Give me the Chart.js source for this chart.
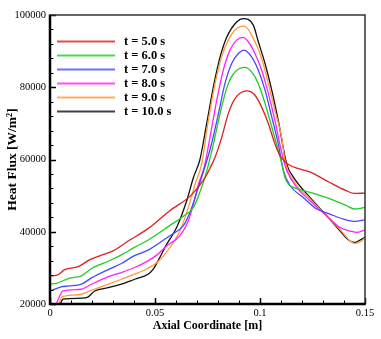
<!DOCTYPE html>
<html>
<head>
<meta charset="utf-8">
<script src="https://cdn.jsdelivr.net/npm/chart.js@4/dist/chart.umd.min.js"></script>
<style>
  html, body { margin: 0; padding: 0; background: #fff; }
  #wrap { width: 381px; height: 339px; }
</style>
</head>
<body>
<div id="wrap"><canvas id="c" width="381" height="339"></canvas></div>
<script>
// ---- Data ----
const seriesLabels = ['t = 5.0 s', 't = 6.0 s', 't = 7.0 s', 't = 8.0 s', 't = 9.0 s', 't = 10.0 s'];
const seriesColors = ['#dd2020', '#22cc22', '#4848ff', '#ff22ff', '#ff9a3a', '#111111'];

const x5 = [0, 0.003, 0.007, 0.014, 0.019, 0.024, 0.030, 0.038, 0.047, 0.057, 0.067, 0.073, 0.0762, 0.0786, 0.0817, 0.0849, 0.0881, 0.0937, 0.0976, 0.1008, 0.104, 0.1071, 0.1095, 0.1129, 0.124, 0.133, 0.141, 0.145, 0.15];
const y5 = [27800, 27900, 29500, 30500, 32300, 33400, 34700, 37700, 41000, 45800, 50000, 54200, 57600, 60600, 66000, 72700, 76850, 78970, 77800, 74500, 69900, 64350, 61100, 58900, 56500, 53700, 51400, 50600, 50700];

const x6 = [0, 0.003, 0.009, 0.015, 0.020, 0.028, 0.034, 0.040, 0.047, 0.057, 0.0635, 0.0683, 0.0714, 0.0745, 0.0775, 0.0817, 0.0849, 0.0881, 0.0929, 0.096, 0.0992, 0.1024, 0.1056, 0.1087, 0.1103, 0.1119, 0.1135, 0.1159, 0.1238, 0.1333, 0.1413, 0.145, 0.15];
const y6 = [25500, 25700, 27100, 27800, 29900, 31900, 33600, 35600, 37800, 41700, 44300, 46750, 51000, 56500, 63500, 74500, 81000, 84250, 85500, 84250, 81000, 75500, 69000, 62500, 59000, 55000, 53200, 52300, 50900, 49100, 47200, 46300, 46750];

const x7 = [0, 0.005, 0.009, 0.015, 0.020, 0.028, 0.034, 0.040, 0.047, 0.057, 0.0635, 0.0667, 0.0705, 0.0735, 0.0765, 0.0802, 0.0833, 0.0865, 0.0897, 0.0924, 0.096, 0.0992, 0.1024, 0.1056, 0.1087, 0.1111, 0.1143, 0.1206, 0.127, 0.1333, 0.1397, 0.1452, 0.15];
const y7 = [23600, 24700, 25000, 25500, 27300, 29600, 31200, 33300, 35000, 38900, 41670, 45400, 52000, 57500, 63400, 72700, 81000, 86570, 89350, 90300, 88400, 84700, 79200, 71750, 64350, 57000, 52800, 49500, 46300, 44900, 43500, 42860, 43300];

const x8 = [0.002, 0.0046, 0.0062, 0.0149, 0.0197, 0.0276, 0.034, 0.0403, 0.0467, 0.051, 0.0556, 0.0619, 0.0659, 0.0683, 0.0706, 0.0735, 0.0762, 0.0794, 0.0825, 0.0857, 0.0889, 0.092, 0.0944, 0.0976, 0.1008, 0.104, 0.1071, 0.1103, 0.1127, 0.1175, 0.1238, 0.1317, 0.138, 0.1437, 0.146, 0.15];
const y8 = [18500, 22200, 23600, 24080, 25460, 27500, 28700, 30100, 31940, 33600, 36100, 38900, 43050, 47700, 53000, 58000, 66200, 76400, 84700, 90280, 93050, 93800, 92600, 89350, 84700, 78240, 70800, 62000, 57000, 52300, 48600, 44440, 41200, 40080, 39800, 40550];

const x9 = [0.003, 0.0054, 0.007, 0.0149, 0.0197, 0.0276, 0.034, 0.0403, 0.0467, 0.0514, 0.0571, 0.0619, 0.0659, 0.069, 0.0722, 0.0754, 0.0786, 0.0817, 0.0849, 0.089, 0.0925, 0.0976, 0.1008, 0.104, 0.1071, 0.1103, 0.1119, 0.1159, 0.1238, 0.1317, 0.138, 0.142, 0.1452, 0.1476, 0.15];
const y9 = [17500, 21750, 22200, 22700, 23800, 25460, 26850, 28250, 29900, 31700, 35640, 40300, 46750, 53000, 58800, 70800, 81000, 88400, 93050, 96300, 96900, 92600, 87950, 81000, 73600, 66200, 59700, 54200, 49100, 44440, 40740, 37960, 36760, 37200, 38240];

const x10 = [0.0035, 0.0055, 0.0065, 0.015, 0.018, 0.0213, 0.0276, 0.034, 0.0403, 0.0467, 0.049, 0.0514, 0.0556, 0.0603, 0.0651, 0.0683, 0.0714, 0.0746, 0.0778, 0.081, 0.0841, 0.089, 0.092, 0.0968, 0.0992, 0.1024, 0.1056, 0.1087, 0.1127, 0.1159, 0.1238, 0.1317, 0.138, 0.142, 0.1452, 0.1476, 0.15];
const y10 = [17000, 20800, 21400, 21600, 21900, 23600, 24500, 25500, 26850, 28250, 29500, 31900, 36570, 41200, 48600, 55000, 60000, 69900, 80100, 88400, 93800, 98150, 99000, 97200, 92600, 86570, 79200, 70800, 58800, 55100, 49500, 44440, 40300, 37800, 37040, 37700, 38430];

const seriesX = [x5, x6, x7, x8, x9, x10];
const seriesY = [y5, y6, y7, y8, y9, y10];

const xMin = 0, xMax = 0.15, xMajor = 0.05, xMinor = 0.01;
const yMin = 20000, yMax = 100000, yMajor = 20000, yMinor = 4000;

const xTitle = 'Axial Coordinate [m]';
const yTitle = 'Heat Flux [W/m²]';

// ---- Build datasets ----
const datasets = seriesLabels.map((lab, i) => ({
  label: lab,
  data: seriesX[i].map((x, k) => ({ x: x, y: seriesY[i][k] })),
  borderColor: seriesColors[i],
  backgroundColor: seriesColors[i],
  borderWidth: 1.3,
  pointRadius: 0,
  showLine: true,
  fill: false,
  cubicInterpolationMode: 'monotone'
}));

const SERIF = '"Liberation Serif", "Times New Roman", serif';

// Inward ticks + frame
const frameTicks = {
  id: 'frameTicks',
  afterDatasetsDraw(chart) {
    const { ctx, chartArea: a, scales } = chart;
    const xs = scales.x, ys = scales.y;
    ctx.save();
    ctx.strokeStyle = '#000';
    const nx = Math.round((xMax - xMin) / xMinor);
    for (let i = 0; i <= nx; i++) {
      const v = xMin + i * xMinor;
      const px = Math.round(xs.getPixelForValue(v)) + 0.5;
      const isMajor = Math.abs(v / xMajor - Math.round(v / xMajor)) < 1e-6;
      ctx.lineWidth = isMajor ? 1.5 : 1;
      ctx.beginPath();
      ctx.moveTo(px, a.bottom);
      ctx.lineTo(px, a.bottom - (isMajor ? 6 : 3.5));
      ctx.stroke();
    }
    const ny = Math.round((yMax - yMin) / yMinor);
    for (let i = 0; i <= ny; i++) {
      const v = yMin + i * yMinor;
      const py = Math.round(ys.getPixelForValue(v)) + 0.5;
      const isMajor = (v % yMajor) === 0;
      ctx.lineWidth = isMajor ? 1.5 : 1;
      ctx.beginPath();
      ctx.moveTo(a.left, py);
      ctx.lineTo(a.left + (isMajor ? 6 : 3.5), py);
      ctx.stroke();
    }
    // frame
    ctx.strokeStyle = '#333';
    ctx.lineWidth = 1.5;
    ctx.beginPath();
    ctx.moveTo(a.left, a.top);
    ctx.lineTo(a.right, a.top);
    ctx.lineTo(a.right, a.bottom);
    ctx.stroke();
    ctx.strokeStyle = '#000';
    ctx.lineWidth = 2.5;
    ctx.beginPath();
    ctx.moveTo(a.left, a.top - 0.5);
    ctx.lineTo(a.left, a.bottom);
    ctx.lineTo(a.right + 0.75, a.bottom);
    ctx.stroke();
    ctx.restore();
  }
};

// Legend drawn inside the plot
const insideLegend = {
  id: 'insideLegend',
  afterDraw(chart) {
    const { ctx } = chart;
    ctx.save();
    ctx.font = 'bold 12.5px ' + SERIF;
    ctx.textBaseline = 'middle';
    ctx.textAlign = 'left';
    chart.data.datasets.forEach((ds, i) => {
      const y = 41.5 + i * 14;
      ctx.strokeStyle = ds.borderColor;
      ctx.globalAlpha = 0.8;
      ctx.lineWidth = 1.8;
      ctx.beginPath();
      ctx.moveTo(57, y);
      ctx.lineTo(115, y);
      ctx.stroke();
      ctx.globalAlpha = 1;
      ctx.fillStyle = '#000';
      ctx.fillText(ds.label, 124, y + 0.5);
    });
    ctx.restore();
  }
};

new Chart(document.getElementById('c'), {
  type: 'scatter',
  data: { datasets },
  options: {
    responsive: false,
    animation: false,
    layout: { padding: { top: 15, right: 16, left: 0, bottom: 0 } },
    plugins: { legend: { display: false }, tooltip: { enabled: false } },
    scales: {
      x: {
        type: 'linear',
        min: xMin, max: xMax,
        border: { display: false },
        grid: { display: false, drawTicks: false },
        ticks: {
          stepSize: xMajor,
          padding: 3,
          color: '#000',
          font: { family: SERIF, size: 10.5 },
          callback: v => String(Math.round(v * 100) / 100)
        },
        title: {
          display: true, text: xTitle, color: '#000',
          font: { family: SERIF, size: 12, weight: 'bold' },
          padding: { top: 0, bottom: 6 }
        },
        afterFit: s => { s.height = 35; }
      },
      y: {
        type: 'linear',
        min: yMin, max: yMax,
        border: { display: false },
        grid: { display: false, drawTicks: false },
        ticks: {
          stepSize: yMajor,
          padding: 4,
          color: '#000',
          font: { family: SERIF, size: 10.5 },
          callback: v => String(v)
        },
        title: {
          display: true, text: yTitle, color: '#000',
          font: { family: SERIF, size: 13.5, weight: 'bold' },
          padding: { top: 4, bottom: 0 }
        },
        afterFit: s => { s.width = 50; }
      }
    }
  },
  plugins: [frameTicks, insideLegend]
});
</script>
</body>
</html>
